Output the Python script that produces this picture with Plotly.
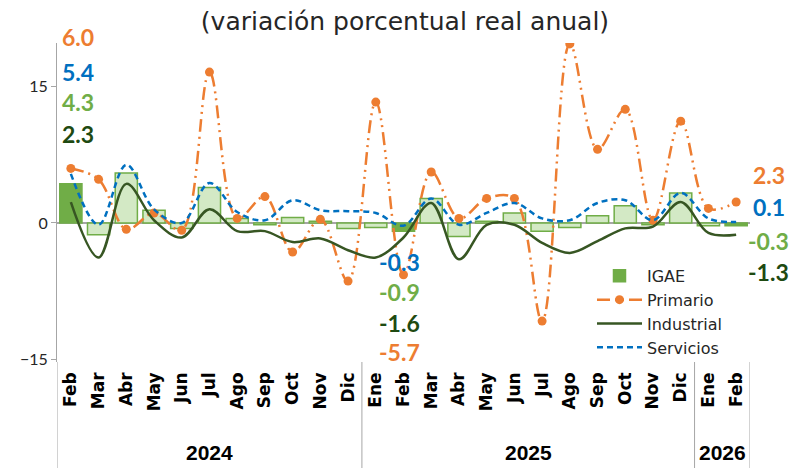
import plotly.graph_objects as go

# ---------------- data ----------------
years = ["2024"] * 11 + ["2025"] * 12 + ["2026"] * 2
months = ["Feb", "Mar", "Abr", "May", "Jun", "Jul", "Ago", "Sep", "Oct", "Nov", "Dic",
          "Ene", "Feb", "Mar", "Abr", "May", "Jun", "Jul", "Ago", "Sep", "Oct", "Nov", "Dic",
          "Ene", "Feb"]

igae = [4.3, -1.3, 5.5, 1.4, -0.6, 3.9, 0.5, -0.2, 0.6, 0.2, -0.6,
        -0.5, -0.9, 2.7, -1.5, 0.2, 1.1, -0.9, -0.5, 0.8, 1.9, -0.2, 3.3,
        -0.3, -0.3]
primario = [6.0, 4.8, -0.7, 1.1, -0.8, 16.6, 0.5, 2.9, -3.2, 0.4, -6.4,
            13.3, -5.7, 5.6, 0.5, 2.7, 2.7, -10.8, 19.7, 8.1, 12.5, 0.3, 11.2,
            1.6, 2.3]
industrial = [2.3, -3.8, 4.3, 0.3, -1.6, 1.5, -0.9, -0.9, -2.1, -1.7, -3.0,
              -3.8, -1.6, 2.2, -4.0, -0.2, -0.2, -2.2, -3.3, -2.0, -0.6, -0.4, 2.3,
              -1.1, -1.3]
servicios = [5.4, -0.2, 6.4, 1.5, 0.0, 4.4, 1.2, 0.3, 2.5, 1.4, 1.3,
             1.1, -0.3, 2.7, -0.2, 1.1, 2.2, 0.5, 0.3, 2.2, 2.5, 0.3, 3.3,
             0.5, 0.1]

title_text = "(variación porcentual real anual)"
y_ticks = [-15, 0, 15]

# ---------------- styles ----------------
C_ORANGE = "#ED7D31"
C_BLUE = "#0070C0"
C_LGREEN = "#70AD47"
C_DGREEN = "#375623"
C_DGREEN_TXT = "#1E4A12"
FONT = "Lato"
FONT_WIDE = "DejaVu Sans"
FONT_NARROW = "Liberation Sans Narrow, Arial Narrow, sans-serif"

# unique category keys, displayed as month names
keys = [f"{m} {y}" for m, y in zip(months, years)]
bar_colors = [C_LGREEN if m == "Feb" else "#D3E9C5" for m in months]

fig = go.Figure()
fig.add_trace(go.Bar(
    x=keys, y=igae, name="IGAE",
    marker=dict(color=bar_colors, line=dict(color=C_LGREEN, width=1.5)),
))
fig.add_trace(go.Scatter(
    x=keys, y=primario, name="Primario", mode="lines+markers",
    line=dict(color=C_ORANGE, width=2.5, shape="spline", smoothing=1,
              dash="13px,5px,2px,5px,2px,5px"),
    marker=dict(size=9, color=C_ORANGE),
))
fig.add_trace(go.Scatter(
    x=keys, y=industrial, name="Industrial", mode="lines",
    line=dict(color=C_DGREEN, width=2.5, shape="spline", smoothing=1),
))
fig.add_trace(go.Scatter(
    x=keys, y=servicios, name="Servicios", mode="lines",
    line=dict(color=C_BLUE, width=2.5, shape="spline", smoothing=1, dash="6px,4px"),
))

# value labels (first, comparison, last)
def lab(xp, yp, val, color):
    return dict(xref="paper", yref="paper", x=xp, y=yp, text=f"{val:.1f}",
                showarrow=False, xanchor="center", yanchor="middle",
                font=dict(family=FONT, size=23, color=color, weight="bold"))

i0, im, il = 0, 12, len(months) - 1
ann = [
    lab(0.030, 1.019, primario[i0], C_ORANGE),
    lab(0.030, 0.909, servicios[i0], C_BLUE),
    lab(0.030, 0.815, igae[i0], C_LGREEN),
    lab(0.030, 0.715, industrial[i0], C_DGREEN_TXT),
    lab(0.494, 0.313, servicios[im], C_BLUE),
    lab(0.494, 0.219, igae[im], C_LGREEN),
    lab(0.494, 0.122, industrial[im], C_DGREEN_TXT),
    lab(0.494, 0.031, primario[im], C_ORANGE),
    lab(1.027, 0.586, primario[il], C_ORANGE),
    lab(1.027, 0.486, servicios[il], C_BLUE),
    lab(1.027, 0.379, igae[il], C_LGREEN),
    lab(1.027, 0.282, industrial[il], C_DGREEN_TXT),
]

# year group labels and dividers (positions from the category indices)
shapes = []
groups = []
start = 0
for i in range(1, len(years) + 1):
    if i == len(years) or years[i] != years[start]:
        groups.append((years[start], start, i - 1))
        start = i
for yr, a, b in groups:
    ann.append(dict(xref="x", yref="paper", x=(a + b) / 2, y=-0.285, text=yr,
                    showarrow=False, xanchor="center", yanchor="middle",
                    font=dict(family=FONT_NARROW, size=21, color="black", weight="bold")))
bounds = [groups[0][1] - 0.5] + [g[2] + 0.5 for g in groups]
for bx in bounds:
    shapes.append(dict(type="line", xref="x", yref="paper", x0=bx, x1=bx,
                       y0=0.0, y1=-0.35, line=dict(color="#A6A6A6", width=1)))

fig.update_layout(
    width=794, height=460,
    margin=dict(l=45, r=52, t=35, b=106),
    paper_bgcolor="white", plot_bgcolor="white",
    font=dict(family=FONT, color="#262626"),
    title=dict(text=title_text, x=0.5, xanchor="center", y=0.972, yanchor="middle",
               font=dict(family=FONT_WIDE, size=25, color="#262626")),
    bargap=0.2,
    showlegend=True,
    legend=dict(x=0.772, y=0.323, xanchor="left", yanchor="top",
                bgcolor="rgba(0,0,0,0)", font=dict(family=FONT_WIDE, size=16, color="#262626"),
                tracegroupgap=0, itemwidth=45),
    annotations=ann,
    shapes=shapes,
)
fig.update_xaxes(
    type="category",
    range=[bounds[0], bounds[-1]],
    tickvals=keys, ticktext=months,
    showgrid=False, showline=False, zeroline=False,
    tickangle=-90, ticks="", ticklabelstandoff=6,
    tickfont=dict(family=FONT_WIDE, size=17, color="black", weight="bold"),
)
fig.update_yaxes(
    range=[-15.3, 19.8],
    tickvals=y_ticks,
    showgrid=False,
    showline=True, linecolor="#A6A6A6", linewidth=1,
    ticks="outside", ticklen=5, tickcolor="#A6A6A6",
    zeroline=True, zerolinecolor="#A6A6A6", zerolinewidth=2,
    tickfont=dict(family=FONT, size=16, color="#262626"),
)

fig.write_html("out.html")
